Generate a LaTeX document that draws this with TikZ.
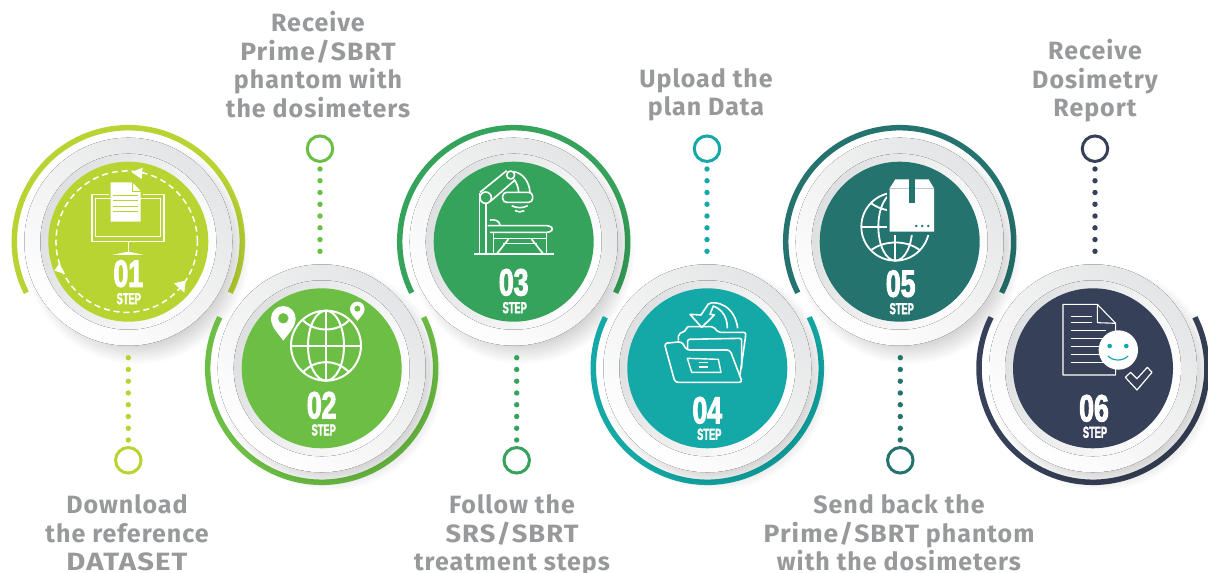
\documentclass[tikz,border=0pt]{standalone}
\usepackage{fontspec}
\setmainfont{Fira Sans}
\newfontfamily\labelfont[LetterSpace=4]{Fira Sans}
\newfontfamily\numfont[FakeStretch=.70,FakeBold=2.5]{Liberation Sans}
\newfontfamily\stepfont[FakeStretch=.58,FakeBold=2]{Liberation Sans}
\usetikzlibrary{calc}
\definecolor{c1}{HTML}{B7D433}
\definecolor{c2}{HTML}{6DBE45}
\definecolor{c3}{HTML}{36A35C}
\definecolor{c4}{HTML}{14A9A6}
\definecolor{c5}{HTML}{25736F}
\definecolor{c6}{HTML}{374059}
\definecolor{lblgrey}{HTML}{97999B}
\definecolor{plategrey}{HTML}{E4E5E6}
\definecolor{ringgrey}{HTML}{DEDFE0}
\newcommand\capsx[2]{\scalebox{#1}[1]{#2}}
\tikzset{
  lbl/.style={text=lblgrey,align=center,inner sep=0pt,anchor=base,font=\labelfont\bfseries\fontsize{25}{28.6}\selectfont},
  numlbl/.style={text=white,inner sep=0pt,font=\numfont\bfseries\fontsize{38}{38}\selectfont},
  steplbl/.style={text=white,inner sep=0pt,font=\stepfont\bfseries\fontsize{16}{16}\selectfont},
  dotline/.style={line width=5.4pt,line cap=round,dash pattern=on 0pt off 11.76pt},
  ringend/.style={circle,draw=#1,line width=3pt,fill=white,minimum size=25.5pt,inner sep=0pt},
  ic/.style={draw=white,line width=1.6pt,line join=round},
  crop/.style={x=.33333pt,y=-.33333pt,xshift=#1pt,yshift=453pt},
}
% name, x, y, colour, arc start angle
\newcommand\stepplate[5]{%
  \begin{scope}[shift={(#2pt,#3pt)}]
    \draw[line width=5.5pt,color=#4] (#5:114pt) arc[start angle=#5,delta angle=233.2,radius=114pt];
    \foreach \rr in {92,94,...,112}
      \fill[black,opacity=.017] (9pt,-10pt) circle[radius=\rr pt];
    \fill[top color=plategrey,middle color=white,bottom color=white,shading angle=-40] (0,0) circle[radius=104pt];
    \fill[top color=ringgrey,middle color=ringgrey!45!white,bottom color=white,shading angle=65] (0,0) circle[radius=88pt];
  \end{scope}
  \node[circle,fill=#4,minimum size=160pt,inner sep=0pt] (#1) at (#2pt,#3pt) {};
}
\begin{document}
\begin{tikzpicture}[x=1pt,y=1pt]
\useasboundingbox (0,0) rectangle (1208,573);
\fill[white] (0,0) rectangle (1208,573);

% plates
\stepplate{s1}{128.3}{331.3}{c1}{-26.6}
\stepplate{s3}{513.7}{331.3}{c3}{-26.6}
\stepplate{s5}{899.7}{331.3}{c5}{-26.6}
\stepplate{s2}{321.7}{204.7}{c2}{153.4}
\stepplate{s4}{707.3}{204.7}{c4}{153.4}
\stepplate{s6}{1093}{204.7}{c6}{153.4}

% connector rings and dots
\node[ringend=c1] (r1) at (128.3,112.7) {};
\node[ringend=c2] (r2) at (320,424.3) {};
\node[ringend=c3] (r3) at (516.7,112.7) {};
\node[ringend=c4] (r4) at (707,424.3) {};
\node[ringend=c5] (r5) at (900.3,112.7) {};
\node[ringend=c6] (r6) at (1095,424.3) {};
\coordinate (d1a) at (128.3,215.3); \coordinate (d1b) at (128.3,132.9);
\coordinate (d3a) at (516.7,215.3); \coordinate (d3b) at (516.7,132.9);
\coordinate (d5a) at (900.3,215.3); \coordinate (d5b) at (900.3,132.9);
\coordinate (d2a) at (320,404); \coordinate (d2b) at (320,321.6);
\coordinate (d4a) at (707,404); \coordinate (d4b) at (707,321.6);
\coordinate (d6a) at (1095,404); \coordinate (d6b) at (1095,321.6);
\draw[dotline,c1] (d1a) -- (d1b);
\draw[dotline,c2] (d2a) -- (d2b);
\draw[dotline,c3] (d3a) -- (d3b);
\draw[dotline,c4] (d4a) -- (d4b);
\draw[dotline,c5] (d5a) -- (d5b);
\draw[dotline,c6] (d6a) -- (d6b);

% numbers
\node[numlbl] (n1) at ($(s1)+(0,-32)$) {01};
\node[steplbl] (t1) at ($(s1)+(0.5,-57)$) {STEP};
\node[numlbl] (n2) at ($(s2)+(0,-37)$) {02};
\node[steplbl] (t2) at ($(s2)+(2,-61.7)$) {STEP};
\node[numlbl] (n3) at ($(s3)+(0,-40.7)$) {03};
\node[steplbl] (t3) at ($(s3)+(1,-66)$) {STEP};
\node[numlbl] (n4) at ($(s4)+(0,-42)$) {04};
\node[steplbl] (t4) at ($(s4)+(2,-66)$) {STEP};
\node[numlbl] (n5) at ($(s5)+(1,-42)$) {05};
\node[steplbl] (t5) at ($(s5)+(2,-67)$) {STEP};
\node[numlbl] (n6) at ($(s6)+(1,-40)$) {06};
\node[steplbl] (t6) at ($(s6)+(2,-64)$) {STEP};

% labels
\node[lbl] (l1) at (127,2) {Download\\the reference\\\capsx{1.17}{DATASET}};
\node[lbl] (l2) at (318,455.5) {Receive\\\capsx{1.06}{Prime/SBRT}\\phantom with\\the dosimeters};
\node[lbl] (l3) at (512,2) {Follow the\\\capsx{1.09}{SRS/SBRT}\\treatment steps};
\node[lbl] (l4) at (706,457) {Upload the\\plan Data};
\node[lbl] (l5) at (899,2) {Send back the\\\capsx{1.06}{Prime/SBRT} phantom\\with the dosimeters};
\node[lbl] (l6) at (1095,456) {Receive\\Dosimetry\\Report};

% icon 1: monitor, document, dashed cycle
\begin{scope}[crop=0]
  \draw[white,line width=1.5pt,dash pattern=on 6pt off 4pt] (380,365) circle[radius=70.7pt];
  \fill[white] (395,157)--(428,143)--(425,177)--cycle;
  \fill[white] (195,462)--(178,430)--(163,452)--cycle;
  \fill[white] (557,482)--(522,490)--(553,518)--cycle;
  \draw[ic] (276,224) rectangle (492,364);
  \draw[ic] (287,236) rectangle (481,350);
  \draw[ic] (385,364)--(385,397);
  \fill[white] (336,405)--(385,395)--(432,405)--cycle;
  \fill[c1] (326,180) rectangle (428,224);
  \fill[white] (332,187)--(397,187)--(422,213)--(422,305)--(332,305)--cycle;
  \draw[c1,line width=.7pt] (397,187)--(397,213)--(422,213);
  \foreach \yy in {225,240,258,275}
    \draw[c1,line width=.9pt] (340,\yy)--(415,\yy);
\end{scope}

% icon 2: globe and pins
\begin{scope}[crop=0]
  \draw[ic,line width=2pt] (978,677) circle[radius=35pt];
  \draw[ic,line width=2pt] (978,677) ellipse[x radius=18pt,y radius=35pt];
  \draw[ic,line width=2pt] (873,677)--(1083,677) (978,572)--(978,782);
  \draw[ic,line width=2pt] (908,600) .. controls (945,638) and (1011,638) .. (1048,600);
  \draw[ic,line width=2pt] (908,758) .. controls (945,716) and (1011,716) .. (1048,758);
  \fill[white] (850,662) .. controls (830,635) and (813,620) .. (813,595) arc[start angle=180,end angle=0,radius=12.3pt] .. controls (887,620) and (870,635) .. (850,662) -- cycle;
  \fill[c2] (850,595) circle[radius=5.2pt];
  \fill[white] (1072,603) .. controls (1062,590) and (1050,580) .. (1050,567) arc[start angle=180,end angle=0,radius=7.3pt] .. controls (1094,580) and (1082,590) .. (1072,603) -- cycle;
  \fill[c2] (1072,566) circle[radius=3pt];
\end{scope}

% icon 3: treatment machine
\begin{scope}[crop=390]
  \draw[ic] (253,402)--(492,402);
  \draw[ic] (268,402)--(268,220);
  \draw[ic] (288,402)--(288,250);
  \draw[ic] (287,233) circle[radius=5.7pt];
  \draw[ic] (362,165) circle[radius=4pt];
  \draw[ic] (270,217)--(350,152);
  \draw[ic] (300,245)--(375,180);
  \draw[ic] (370,155) .. controls (398,158) and (418,185) .. (420,217);
  \draw[ic] (372,178) .. controls (380,190) and (385,200) .. (386,217);
  \draw[ic,rounded corners=4pt] (338,217) rectangle (428,247);
  \draw[ic] (365,257) .. controls (378,265) and (400,265) .. (413,257);
  \draw[ic] (375,272) .. controls (384,277) and (394,277) .. (403,272);
  \draw[ic,rounded corners=3pt] (293,317)--(480,317)--(490,327)--(480,337)--(300,337);
  \draw[ic] (300,300) .. controls (315,298) and (328,302) .. (330,315);
  \draw[ic] (310,337)--(310,402) (470,337)--(470,402);
  \draw[ic] (310,356)--(470,356);
  \draw[ic] (340,370)--(440,370);
  \draw[ic] (320,402)--(355,358) (460,402)--(425,358);
\end{scope}

% icon 4: folder and arrow
\begin{scope}[crop=390]
  \draw[ic,rounded corners=2pt] (865,662)--(865,643)--(890,630)--(890,620)--(970,620)--(985,637)--(1067,637)--(1067,648)--(1050,765);
  \draw[ic,rounded corners=2pt] (893,690)--(893,658)--(1055,655)--(1055,745);
  \draw[ic,rounded corners=3pt] (823,670)--(875,665)--(890,690)--(1020,690)--(1057,787)--(855,787)--cycle;
  \draw[ic,line width=1.4pt] (892,715)--(985,718)--(993,757)--(905,757)--cycle;
  \draw[ic,line width=1.1pt] (927,728)--(955,728) (927,741)--(955,741);
  \draw[ic] (1012,625) .. controls (1012,595) and (1000,570) .. (970,558)--(960,583)--(973,585)--(935,622)--(900,583)--(933,585)--(955,552) .. controls (975,540) and (1035,555) .. (1043,625);
\end{scope}

% icon 5: globe and parcel
\begin{scope}[crop=778]
  \draw[ic,line width=1.8pt] (352,320) circle[radius=34pt];
  \draw[ic,line width=1.8pt] (352,320) ellipse[x radius=17pt,y radius=34pt];
  \draw[ic,line width=1.8pt] (250,320)--(455,320) (352,218)--(352,422);
  \draw[ic,line width=1.8pt] (280,250) .. controls (320,280) and (385,280) .. (425,250);
  \draw[ic,line width=1.8pt] (280,390) .. controls (320,360) and (385,360) .. (425,390);
  \fill[c5] (326,170) rectangle (476,344);
  \fill[white] (335,205)--(352,178)--(452,178)--(468,205)--(468,335)--(335,335)--cycle;
  \draw[c5!35!white,line width=.5pt] (335,205)--(468,205);
  \fill[c5] (393,178) rectangle (410,248);
  \foreach \xx in {415,433,451} \fill[c5] (\xx,318) circle[radius=1.4pt];
\end{scope}

% icon 6: report and smile
\begin{scope}[crop=778]
  \draw[ic,line width=1.1pt] (855,553)--(958,553)--(1013,610)--(1013,765)--(855,765)--cycle;
  \draw[ic,line width=1.1pt] (958,553)--(958,608)--(1013,610);
  \draw[ic,line width=1.1pt] (878,590)--(942,590) (878,608)--(942,608);
  \foreach \yy in {632,656,680,704,728} \draw[ic,line width=1.1pt] (878,\yy)--(985,\yy);
  \fill[white] (1021,690) circle[radius=19.7pt];
  \fill[c4] (995,678) circle[radius=2.3pt] (1045,678) circle[radius=2.3pt];
  \draw[c4,line width=1.2pt,line cap=round] (990,708) .. controls (1005,724) and (1035,724) .. (1050,708);
  \draw[ic,line width=1.2pt] (1042,772)--(1058,757)--(1077,776)--(1108,742)--(1122,757)--(1077,810)--cycle;
\end{scope}
\end{tikzpicture}
\end{document}
